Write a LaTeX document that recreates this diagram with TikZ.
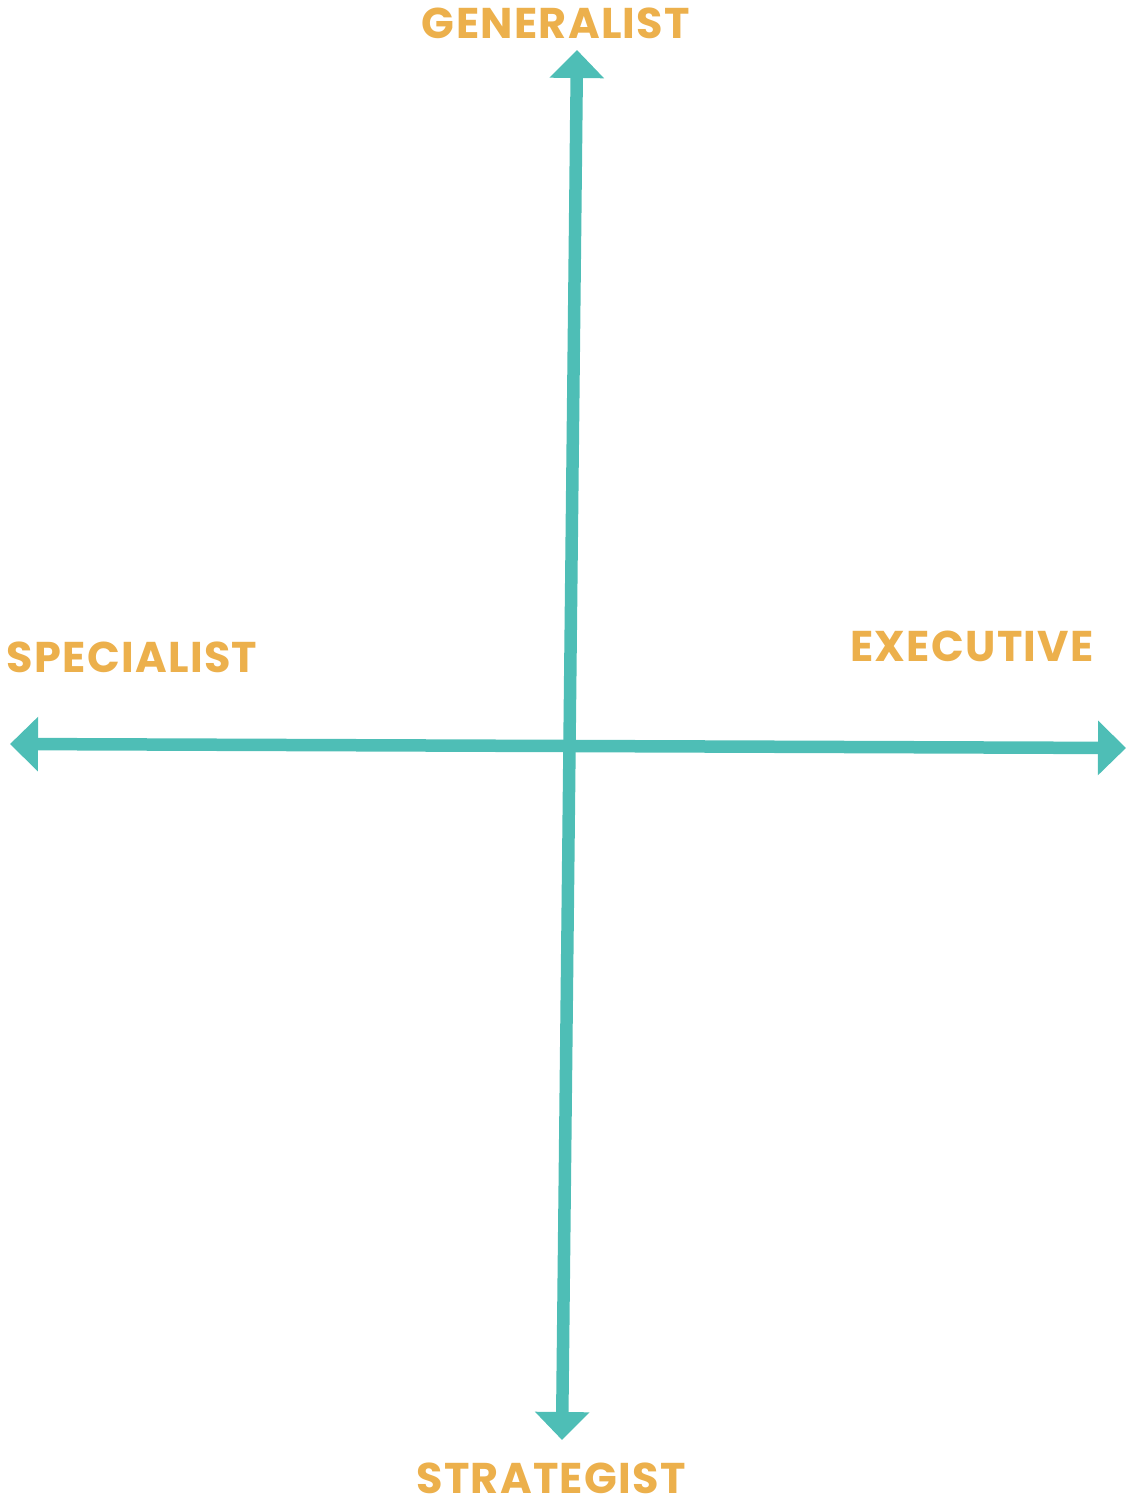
\documentclass[tikz,border=0pt]{standalone}
\usepackage{fontspec}
\newfontfamily\lblfont{Poppins}[LetterSpace=3]
\usetikzlibrary{arrows.meta}
\definecolor{axisteal}{RGB}{78,190,182}
\definecolor{lblorange}{RGB}{236,176,76}

\begin{document}
\begin{tikzpicture}[x=1pt,y=-1pt,
    axis/.style={axisteal, line width=12.5pt, {Triangle[length=28pt,width=53pt]}-{Triangle[length=28pt,width=53pt]}},
    lbl/.style={lblorange, anchor=base, inner sep=0pt, text depth=0pt, font=\lblfont\bfseries\fontsize{43}{43}\selectfont}]

      \useasboundingbox (0,0) rectangle (1126,1499);

      \coordinate (top) at (577,50);
      \coordinate (bottom) at (562,1440);
      \coordinate (left) at (10,744);
      \coordinate (right) at (1126,748);

      \draw[axis] (bottom) -- (top);
      \draw[axis] (left) -- (right);

      \node[lbl] (gen) at (556,38) {GENERALIST};
      \node[lbl] (spec) at (132,672) {SPECIALIST};
      \node[lbl] (exec) at (972,661) {EXECUTIVE};
      \node[lbl] (strat) at (551,1493) {STRATEGIST};

    \end{tikzpicture}
\end{document}
